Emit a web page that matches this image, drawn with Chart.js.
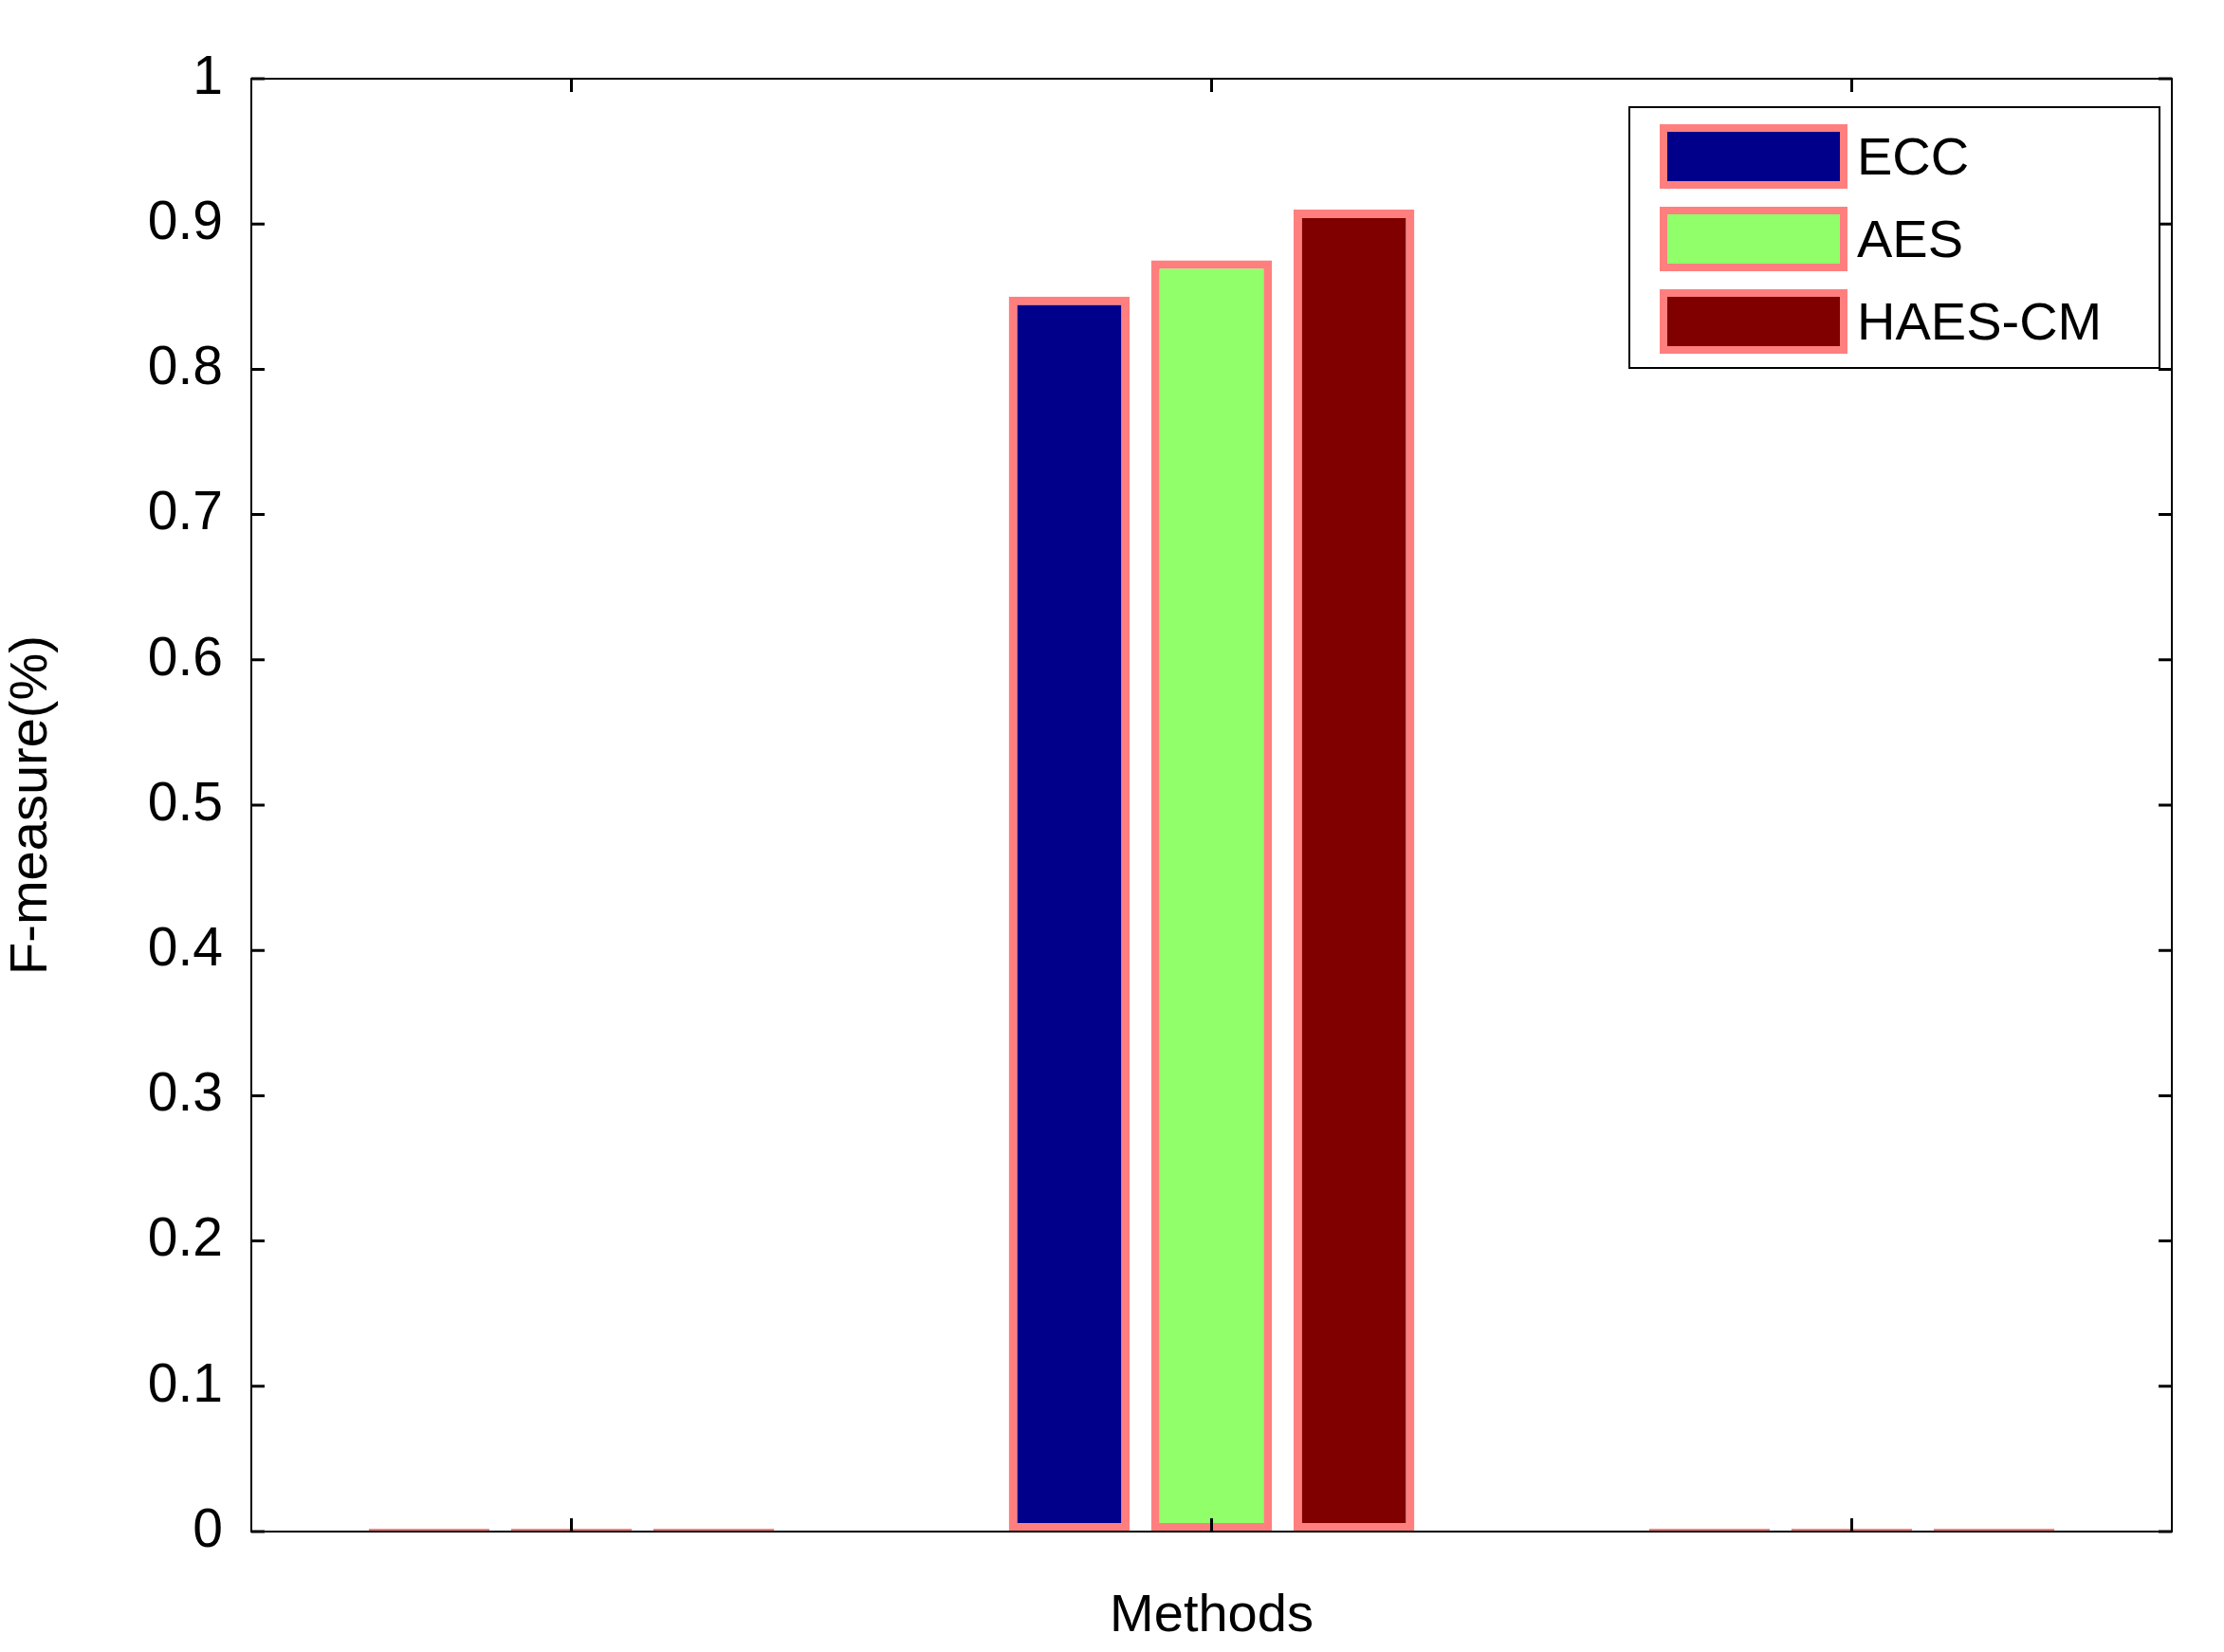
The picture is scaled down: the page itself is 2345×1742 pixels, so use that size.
<!DOCTYPE html>
<html>
<head>
<meta charset="utf-8">
<script src="https://cdn.jsdelivr.net/npm/chart.js@4/dist/chart.umd.min.js"></script>
<style>
  body { margin: 0; background: #fff; }
  #wrap { width: 2345px; height: 1742px; }
</style>
</head>
<body>
<div id="wrap"><canvas id="chart"></canvas></div>
<script>
// ---- data ----
const groups = ["", "", ""];
const seriesNames = ["ECC", "AES", "HAES-CM"];
const eccValues = [0, 0.85, 0];
const aesValues = [0, 0.875, 0];
const haesValues = [0, 0.91, 0];
const yTicks = [0, 0.1, 0.2, 0.3, 0.4, 0.5, 0.6, 0.7, 0.8, 0.9, 1];

const fills = ["#00008b", "#90ff6a", "#800000"];
const edge = "#ff7f7f";
const FONT = "Liberation Sans, Arial, sans-serif";

// frame + inward ticks, matlab style
const framePlugin = {
  id: "frame",
  afterDraw(chart) {
    const c = chart.ctx, a = chart.chartArea;
    c.save();
    c.strokeStyle = "#000";
    c.lineWidth = 2;
    c.strokeRect(a.left, a.top, a.right - a.left, a.bottom - a.top);
    const y = chart.scales.y, x = chart.scales.x;
    c.lineWidth = 3;
    yTicks.forEach(v => {
      const py = y.getPixelForValue(v);
      c.beginPath();
      c.moveTo(a.left, py); c.lineTo(a.left + 14, py);
      c.moveTo(a.right, py); c.lineTo(a.right - 14, py);
      c.stroke();
    });
    groups.forEach((g, i) => {
      const px = x.getPixelForValue(i);
      c.beginPath();
      c.moveTo(px, a.bottom); c.lineTo(px, a.bottom - 14);
      c.moveTo(px, a.top); c.lineTo(px, a.top + 14);
      c.stroke();
    });
    c.restore();
  }
};

// legend box in the top right corner
const legendPlugin = {
  id: "boxLegend",
  afterDraw(chart) {
    const c = chart.ctx;
    const bx = 1718, by = 113, bw = 559, bh = 275;
    c.save();
    c.fillStyle = "#fff";
    c.fillRect(bx, by, bw, bh);
    c.strokeStyle = "#000";
    c.lineWidth = 2;
    c.strokeRect(bx, by, bw, bh);
    c.font = "56px " + FONT;
    c.textBaseline = "middle";
    chart.data.datasets.forEach((ds, i) => {
      const cy = by + 52 + i * 87;
      c.fillStyle = ds.backgroundColor;
      c.fillRect(bx + 36, cy - 30, 190, 60);
      c.strokeStyle = edge;
      c.lineWidth = 8;
      c.strokeRect(bx + 36, cy - 30, 190, 60);
      c.fillStyle = "#000";
      c.fillText(ds.label, bx + 240, cy + 4);
    });
    c.restore();
  }
};

const datasets = [eccValues, aesValues, haesValues].map((vals, i) => ({
  label: seriesNames[i],
  data: vals,
  backgroundColor: fills[i],
  borderColor: edge,
  borderWidth: 9,
  borderSkipped: false,
  minBarLength: 3,
  categoryPercentage: 0.667,
  barPercentage: 0.85
}));

new Chart(document.getElementById("chart"), {
  type: "bar",
  data: { labels: groups, datasets: datasets },
  options: {
    responsive: true,
    maintainAspectRatio: false,
    animation: false,
    layout: { padding: { top: 83, right: 55, left: 0, bottom: 0 } },
    plugins: { legend: { display: false }, tooltip: { enabled: false } },
    scales: {
      x: {
        grid: { display: false },
        border: { display: false },
        ticks: { display: false },
        title: { display: true, text: "Methods", color: "#000", font: { size: 56, family: FONT }, padding: { top: 10 } },
        afterFit: s => { s.height = 127; }
      },
      y: {
        min: 0, max: 1,
        afterBuildTicks: s => { s.ticks = yTicks.map(v => ({ value: v })); },
        grid: { display: false },
        border: { display: false },
        ticks: { color: "#000", font: { size: 57, family: FONT }, padding: 22, callback: v => String(+v.toFixed(1)) },
        title: { display: true, text: "F-measure(%)", color: "#000", font: { size: 56, family: FONT }, padding: { top: 0, bottom: 0 } },
        afterFit: s => { s.width = 265; }
      }
    }
  },
  plugins: [framePlugin, legendPlugin]
});
</script>
</body>
</html>
